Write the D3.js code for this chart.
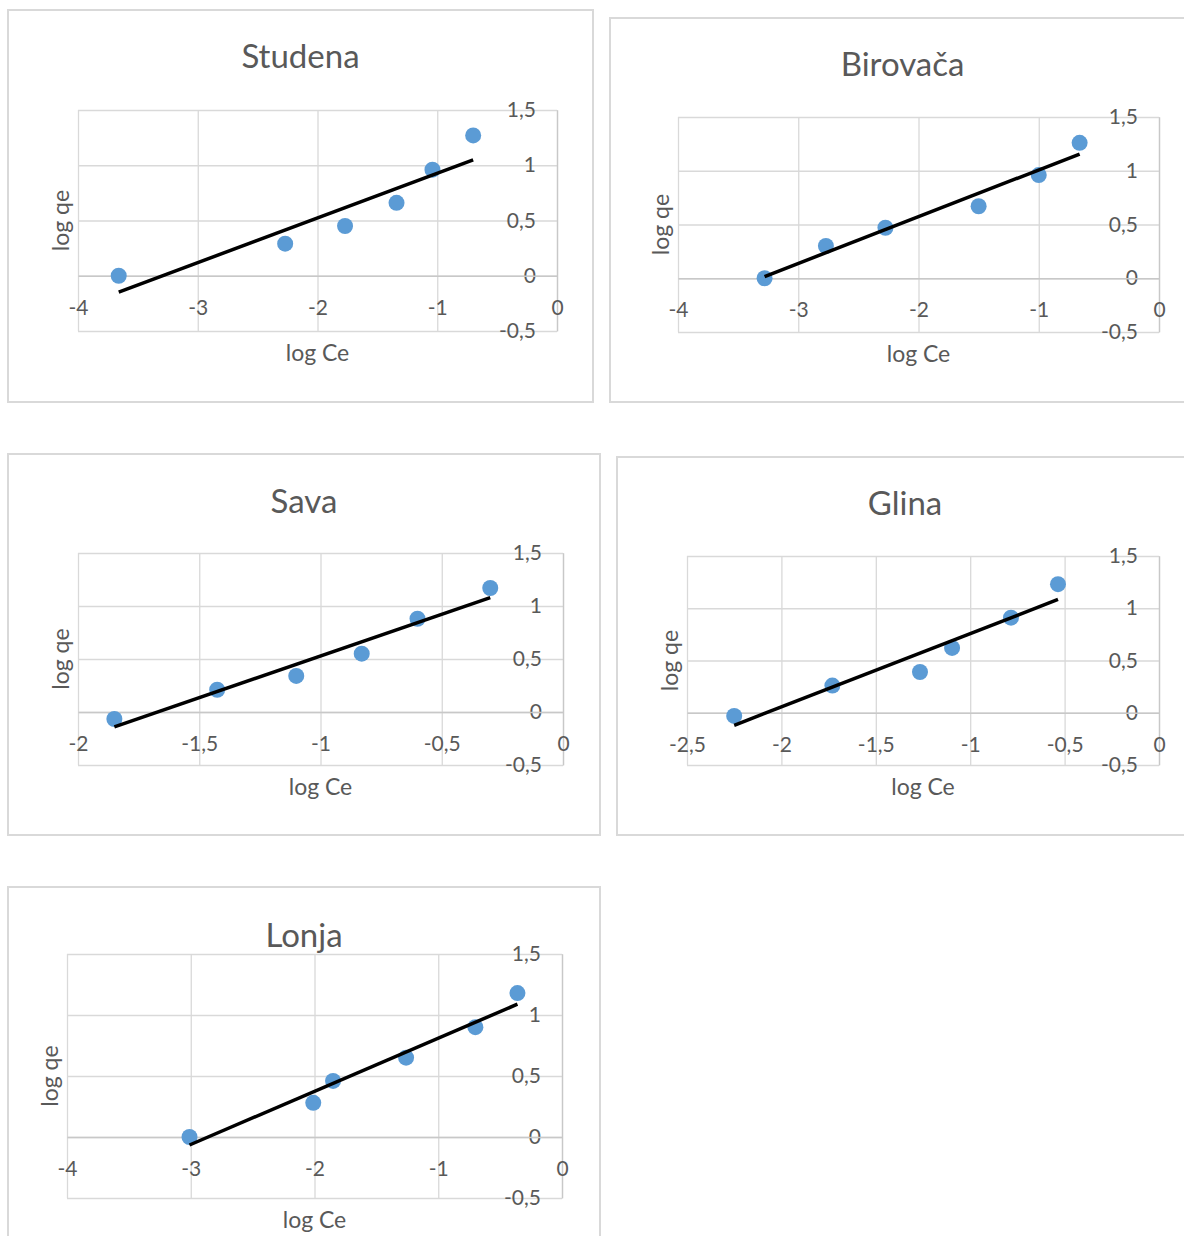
<!DOCTYPE html>
<html>
<head>
<meta charset="utf-8">
<script src="https://cdn.jsdelivr.net/npm/d3@7"></script>
<style>
  html, body { margin: 0; padding: 0; background: #fff; }
  svg { display: block; font-family: Lato, "Open Sans", sans-serif; }
</style>
</head>
<body>
<svg id="chart" width="1184" height="1236"></svg>
<script>
// ---- data ----
const titles = ["Studena", "Birovača", "Sava", "Glina", "Lonja"];
const xAxisTitle = "log Ce";
const yAxisTitle = "log qe";

const studenaX = [-3.66, -2.27, -1.77, -1.34, -1.04, -0.70];
const studenaY = [0.00, 0.29, 0.45, 0.66, 0.96, 1.27];

const birovacaX = [-3.28, -2.77, -2.275, -1.50, -1.00, -0.66];
const birovacaY = [0.00, 0.30, 0.47, 0.67, 0.96, 1.26];

const savaX = [-1.85, -1.426, -1.10, -0.83, -0.60, -0.30];
const savaY = [-0.066, 0.21, 0.34, 0.55, 0.88, 1.17];

const glinaX = [-2.25, -1.73, -1.266, -1.096, -0.784, -0.535];
const glinaY = [-0.03, 0.26, 0.39, 0.62, 0.91, 1.23];

const lonjaX = [-3.01, -2.01, -1.85, -1.26, -0.70, -0.36];
const lonjaY = [0.00, 0.28, 0.46, 0.65, 0.90, 1.18];

const xTicksStudena = [-4, -3, -2, -1, 0];
const xTicksBirovaca = [-4, -3, -2, -1, 0];
const xTicksSava = [-2, -1.5, -1, -0.5, 0];
const xTicksGlina = [-2.5, -2, -1.5, -1, -0.5, 0];
const xTicksLonja = [-4, -3, -2, -1, 0];
const yTicks = [-0.5, 0, 0.5, 1, 1.5];

// ---- layout (positions only) ----
const layout = [
  { box: [8, 10, 593, 402],   plot: [78, 110, 557, 331],   titleY: 55 },
  { box: [610, 18, 1195, 402], plot: [678, 117, 1159, 332], titleY: 63 },
  { box: [8, 454, 600, 835],  plot: [78, 553, 563, 765],   titleY: 500 },
  { box: [617, 457, 1193, 835], plot: [687, 556, 1159, 765], titleY: 502 },
  { box: [8, 887, 600, 1250], plot: [67, 954, 562, 1198],  titleY: 934 }
];

const series = [
  { title: titles[0], xs: studenaX, ys: studenaY, xTicks: xTicksStudena },
  { title: titles[1], xs: birovacaX, ys: birovacaY, xTicks: xTicksBirovaca },
  { title: titles[2], xs: savaX, ys: savaY, xTicks: xTicksSava },
  { title: titles[3], xs: glinaX, ys: glinaY, xTicks: xTicksGlina },
  { title: titles[4], xs: lonjaX, ys: lonjaY, xTicks: xTicksLonja }
];

const locale = d3.formatLocale({ decimal: ",", thousands: ".", grouping: [3], currency: ["", ""], minus: "-" });
const fmt = locale.format("~g");

const TEXT = "#595959";
const GRID = "#d9d9d9";
const AXIS = "#c8c8c8";
const DOT = "#5b9bd5";

const svg = d3.select("#chart");

series.forEach((s, i) => {
  const L = layout[i];
  const [bx0, by0, bx1, by1] = L.box;
  const [px0, py0, px1, py1] = L.plot;
  const g = svg.append("g");

  g.append("rect")
    .attr("x", bx0).attr("y", by0)
    .attr("width", bx1 - bx0).attr("height", by1 - by0)
    .attr("fill", "#fff").attr("stroke", GRID).attr("stroke-width", 2);

  const x = d3.scaleLinear().domain([s.xTicks[0], s.xTicks[s.xTicks.length - 1]]).range([px0, px1]);
  const y = d3.scaleLinear().domain([yTicks[0], yTicks[yTicks.length - 1]]).range([py1, py0]);

  // horizontal gridlines
  const gh = g.append("g").attr("transform", `translate(${px0},0)`)
    .call(d3.axisLeft(y).tickValues(yTicks).tickSize(-(px1 - px0)).tickFormat(""));
  gh.select(".domain").remove();
  gh.selectAll("line").attr("stroke", GRID).attr("stroke-width", 1.3);

  // vertical gridlines
  const gv = g.append("g").attr("transform", `translate(0,${py1})`)
    .call(d3.axisBottom(x).tickValues(s.xTicks).tickSize(-(py1 - py0)).tickFormat(""));
  gv.select(".domain").remove();
  gv.selectAll("line").attr("stroke", GRID).attr("stroke-width", 1.3);

  // y axis at x = 0 (labels to its left)
  const ya = g.append("g").attr("transform", `translate(${x(0)},0)`)
    .call(d3.axisLeft(y).tickValues(yTicks).tickSize(0).tickPadding(21).tickFormat(fmt));
  ya.select(".domain").attr("stroke", AXIS).attr("stroke-width", 1.3);
  ya.selectAll("text").attr("fill", TEXT).attr("font-size", 21).attr("font-family", "Lato");

  // x axis at y = 0 (labels below it)
  const xa = g.append("g").attr("transform", `translate(0,${y(0)})`)
    .call(d3.axisBottom(x).tickValues(s.xTicks).tickSize(0).tickPadding(24).tickFormat(fmt));
  xa.select(".domain").attr("stroke", AXIS).attr("stroke-width", 1.3);
  xa.selectAll("text").attr("fill", TEXT).attr("font-size", 21).attr("font-family", "Lato");

  // title
  g.append("text")
    .attr("x", (bx0 + bx1) / 2).attr("y", L.titleY)
    .attr("text-anchor", "middle").attr("dominant-baseline", "central")
    .attr("font-size", 33).attr("fill", TEXT)
    .text(s.title);

  // axis titles
  g.append("text")
    .attr("x", (px0 + px1) / 2).attr("y", py1 + 21)
    .attr("text-anchor", "middle").attr("dominant-baseline", "central")
    .attr("font-size", 23).attr("fill", TEXT)
    .text(xAxisTitle);
  g.append("text")
    .attr("transform", `translate(${px0 - 18},${(py0 + py1) / 2}) rotate(-90)`)
    .attr("text-anchor", "middle").attr("dominant-baseline", "central")
    .attr("font-size", 23).attr("fill", TEXT)
    .text(yAxisTitle);

  // points
  const pts = s.xs.map((v, k) => [v, s.ys[k]]);
  g.append("g").selectAll("circle").data(pts).join("circle")
    .attr("cx", d => x(d[0])).attr("cy", d => y(d[1]))
    .attr("r", 8).attr("fill", DOT);

  // linear trendline (least squares of the points)
  const mx = d3.mean(s.xs), my = d3.mean(s.ys);
  const sxy = d3.sum(pts, d => (d[0] - mx) * (d[1] - my));
  const sxx = d3.sum(pts, d => (d[0] - mx) ** 2);
  const b = sxy / sxx, a = my - b * mx;
  const xe = d3.extent(s.xs);
  g.append("path")
    .datum(xe.map(v => [v, a + b * v]))
    .attr("d", d3.line().x(d => x(d[0])).y(d => y(d[1])))
    .attr("stroke", "#000").attr("stroke-width", 3.5).attr("fill", "none");
});
</script>
</body>
</html>
